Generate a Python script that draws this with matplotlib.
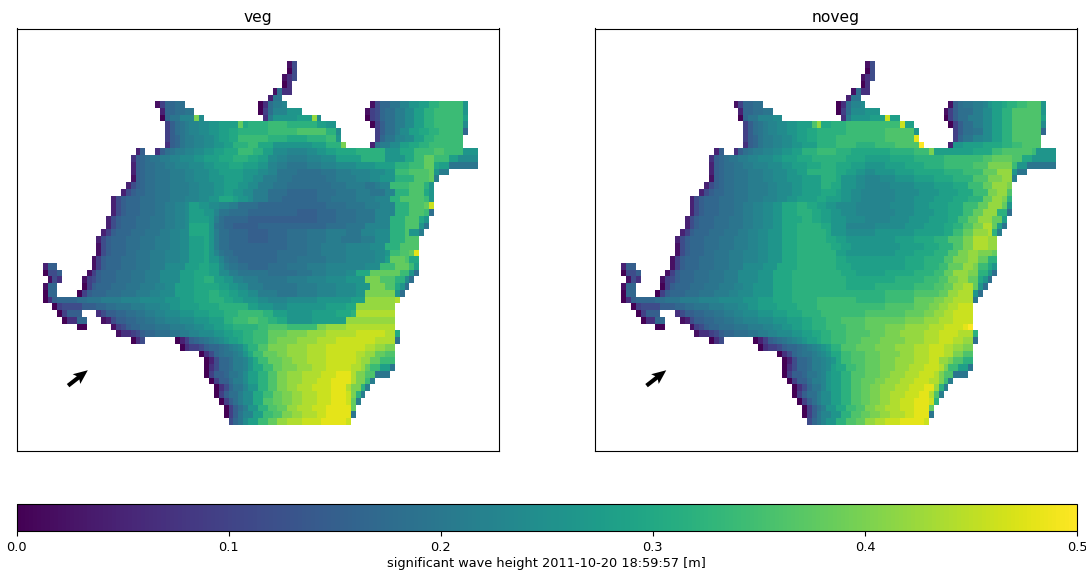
import numpy as np
import matplotlib
matplotlib.use("Agg")
import matplotlib.pyplot as plt

# -------------------------
# DATA
# -------------------------
# one string per grid row
# token = level letter + column where that level stops, "." = no data

PANEL_TITLES = ["veg", "noveg"]
CBAR_TICKS = [0.0, 0.1, 0.2, 0.3, 0.4, 0.5]
CBAR_LABEL = "significant wave height 2011-10-20 18:59:57 [m]"
N_COLS = 89

# wave height [m] of each level letter, matched against the colour bar
LEVEL_LETTERS = "abcdefghijklmnopqrstuvwxyz"
LEVEL_VALUES = [0.0, 0.02, 0.045, 0.07, 0.095, 0.115, 0.15, 0.165, 0.18, 0.195, 0.21, 0.225, 0.24,
                0.26, 0.28, 0.30, 0.32, 0.34, 0.36, 0.38, 0.40, 0.42, 0.44, 0.46, 0.48, 0.50]

VEG_ROWS = [
    ".50 b51 f52",
    ".50 a51 f52",
    ".49 b50 d51 f52",
    ".49 a50 d51",
    ".47 b48 i49 d51",
    ".46 c47 j49",
    ".23 b24 e25 h27 i29 .44 a45 d46 i47 k49 l50 .67 b68 f69 h71 j73 l75 n77 o79 q81 r86 n87",
    ".24 c25 h27 i29 j31 .44 a45 e46 i47 l50 n53 .66 b67 e68 f69 h70 i72 k74 m76 o78 q80 r86 n87",
    ".24 a25 h26 j28 l31 u32 m33 .45 d46 k47 n52 o55 v56 m57 .66 a67 e68 f69 h70 i72 k74 m76 o78 q80 r86 o87",
    ".25 e26 g27 i28 j29 k30 l32 m34 n36 o40 t41 p42 q46 r50 q56 o58 n60 .67 a68 e69 g70 i72 k74 m76 o78 q80 r86 m87",
    ".25 e26 g27 i28 j29 k30 l32 m34 n36 o38 p40 q46 r52 s58 q60 m61 .68 e69 g70 i72 k73 m75 o77 p79 q81 r86 h87",
    ".25 e26 g27 h28 j29 k31 l33 m35 n36 o38 p40 r46 q50 p54 q58 r60 n61 .68 e69 h70 j72 l74 m76 o78 q80 r86",
    ".25 d26 g27 h28 j29 k31 l33 m35 n37 o39 q42 r44 p47 n52 n55 o58 q61 u62 .67 c68 i69 k71 m73 o75 p77 q79 r86",
    ".19 c20 g21 .23 d24 g25 i26 j27 k29 l31 m33 n35 o37 p40 r43 q45 o47 m50 l54 m56 n58 o60 p64 q70 n73 p76 r80 s82 r86 n89",
    ".18 d19 g20 h21 i22 j24 k26 l28 m31 n33 o36 p39 q42 p44 o46 m48 l50 k54 l57 m60 o65 q70 n74 p76 r78 t80 r83 o85 m89",
    ".18 c19 g20 h21 i23 j25 k27 l30 m33 n35 o38 p41 o44 n46 l48 k50 j54 k57 l60 m64 n68 o72 q75 r78 t80 p81 o83 j89",
    ".18 c19 g20 h21 i23 j26 k29 l31 m34 n36 o38 o41 n44 m46 l48 j52 i57 j60 k63 l67 m70 n72 r75 s79 t80 n81 k83",
    ".18 b19 g20 h21 i23 j26 k29 l31 m34 n37 o41 n43 m45 k48 j51 i58 j60 k64 l67 m69 n72 q76 s79 t80 k81",
    ".17 c18 f19 g20 h21 i23 j26 k30 l32 m35 n37 o40 n42 m44 k47 j50 i59 j62 k66 j68 k69 l71 r75 s78 q79 n80",
    ".16 c17 f18 g19 h21 i23 j26 k30 l32 m35 n37 o39 n41 m43 k46 i50 h56 i60 j64 k67 j70 l72 q75 s78 p79 n80",
    ".14 c15 f16 g17 h20 i23 j26 k29 l32 m34 n36 p39 o40 n42 m43 k46 i49 h56 i59 j64 k68 l71 q73 s78 r79 n80",
    ".14 c15 f16 g17 h20 i23 j25 k27 l29 m30 o32 n34 m36 l38 k40 i44 h50 h58 i62 j66 k69 l72 q75 s78 t79 x80",
    ".14 c15 f16 g17 h20 i23 j25 k27 l29 m30 o33 n35 l36 j38 i42 h52 g56 h60 i64 j68 l72 q75 s78 r79 i80",
    ".13 c14 f15 g16 h19 i22 j25 k27 l29 m30 o34 n35 k36 i37 h42 g52 g56 h60 i64 j68 l71 q74 s77 p78 n79",
    ".13 c14 f15 g16 h19 i22 j25 k27 l29 m30 p34 n35 j36 i37 h39 g44 h52 h58 i62 j66 l71 q74 s77 n78 j79",
    ".12 c13 e14 g15 h18 i21 j24 k26 l28 m30 p34 n35 k36 i38 h42 g46 h50 i54 j58 k62 j65 l68 m71 q74 s75 n77 k78",
    ".11 c12 f13 g14 h17 i20 j23 k26 l28 m30 o33 p34 n35 k36 i38 h42 g46 h50 i54 j58 k61 j65 k68 m71 q74 s77",
    ".11 b12 f13 g14 h17 i20 j23 k26 l28 m30 o33 p34 n35 k36 i38 h44 h50 i54 j57 k62 l67 m70 q73 s77",
    ".11 b12 f13 g14 h17 i19 j22 k25 l28 m30 o33 p34 n35 l36 j37 i39 h44 h48 i52 i54 j57 k62 l68 m70 n71 r73 s75 t76 y77",
    ".10 b11 e12 g13 h16 i19 j22 k25 l28 m30 o33 p34 n36 l37 j38 i40 h44 h48 i52 j56 j58 k62 l68 m70 o71 t74 s75 p77",
    "c1 g3 .10 b11 e12 g13 h16 i19 j22 k25 m29 o32 p34 o36 m37 k38 j40 i42 h46 i50 j54 k58 l63 l66 m69 r72 t75 r76 o77",
    "a1 f3 g4 .9 b10 e11 g12 h15 i18 j21 k24 m28 o31 p34 o36 m38 k40 j42 j46 i52 j55 k58 l62 m64 p67 t73 r75 n76 i77",
    ".1 b2 f3 d4 .8 b9 e10 f11 g12 h15 i18 j21 k24 m28 o31 p33 q35 o37 n39 l41 k44 j50 k54 l58 m62 n66 u69 s72 q74 m75 i76",
    "b1 h3 .8 a9 e10 g11 h14 i17 j20 k23 l25 m27 o31 p34 p36 o38 n40 m42 k45 j52 k56 l60 m64 n67 u70 s72 p73 n74 i75",
    "a1 h3 .7 a8 e9 g10 h13 i16 j19 k22 l24 m27 o31 p34 q36 p38 o40 n42 m44 k48 j52 k56 l60 m64 n66 u72 n73 i74",
    "a1 d2 g3 h7 i9 j12 k16 l20 m25 n28 o31 p34 q37 p39 o41 n44 m46 l50 m56 n60 n63 o66 v72 w73",
    ".2 a3 e4 f8 g11 h13 i15 j18 k21 l24 m26 n28 o32 p36 q40 q42 o44 n47 m50 n54 n58 o62 p64 v72",
    ".3 a4 e5 g8 .11 d12 f13 g15 h17 i19 j21 k23 l25 m28 n31 o34 p37 q40 r43 r45 q47 o50 n55 o60 p63 q64 w72",
    ".4 a5 d7 h9 .12 b13 c14 f15 g17 h19 i21 j23 k25 l28 m31 n34 o37 q39 r42 s44 r46 q48 p50 n55 o58 o62 v72",
    ".7 a9 .14 b15 e16 f17 g18 h20 i23 j26 k29 l31 m33 n35 o37 p39 q44 r46 s50 r56 u58 v62 w72",
    ".15 b16 d18 e19 f20 g21 h23 i26 j28 k30 l32 m35 n37 o39 p41 q43 r46 t50 u54 v58 w64 x70 w72 p73",
    ".18 a19 d20 f21 .27 a28 c29 e30 g31 h32 i33 j34 k35 l36 m37 n38 o40 p41 q43 r46 t48 u52 v56 w60 x68 w72 i73",
    ".28 a29 d30 e32 f33 g34 h36 i37 j38 k39 l40 m41 o42 q44 s46 u50 v54 w58 x66 w68 v70 u72",
    ".32 a33 d34 f35 h36 i37 j39 k40 l41 n42 p43 r45 t48 u50 v54 w58 x64 w66 v68 t70 s72",
    ".33 a34 c35 f36 h38 i39 k41 l42 n43 p44 r46 t49 u51 v54 w58 x64 w65 v67 t69 r71 r72",
    ".33 a34 d35 f36 h38 i39 k41 l42 n43 p45 r47 t49 u52 v55 w58 x63 w65 v66 t67 r69 o71 j72",
    ".33 a34 e35 g37 h38 j40 k41 m42 o44 q46 s48 u50 v53 w57 x60 y63 w64 u66 s68 j71",
    ".34 a35 e36 g38 i39 k41 m42 o44 q46 s48 u50 v53 w56 x59 y63 w64 u66 r67 k68",
    ".35 a36 d37 f38 h39 j41 l42 n44 q46 s48 u50 v52 w55 x59 y62 w63 u65 q66 k67",
    ".35 a36 e37 g38 i40 k41 m43 p45 r47 t49 u51 v53 w56 x59 y62 x63 u64 q65 k66",
    ".36 a37 e38 g39 i40 k41 m43 p45 s47 t49 u51 v53 w56 x59 y62 x63 t64 k65",
    ".37 a38 e39 g40 i41 k42 n44 q46 s48 t50 v52 w55 x58 y63 t64",
    ".37 a38 e39 g40 j41 l43 o45 r47 s49 u51 v53 w56 x58 y63 j64",
    ".38 f39 h40 j41 m42 o44 r46 t48 v50 w53 x57 y62 x63",
]

NOVEG_ROWS = [
    ".50 b51 f52",
    ".50 a51 f52",
    ".49 b50 d51 f52",
    ".49 a50 d51",
    ".47 b48 i49 d51",
    ".46 c47 j49",
    ".23 b24 e25 h27 i29 .44 a45 d46 i47 l49 m50 .67 b68 g69 i70 j72 k74 l75 n76 o78 p79 q81 r83 s86 n87",
    ".24 c25 h27 i29 j31 .44 a45 e46 i47 m50 n53 .66 b67 e68 g69 i72 k74 m76 o78 q80 s86 n87",
    ".24 a25 h26 j28 l31 m33 .45 d46 k47 n51 o54 x55 o57 .66 a67 e68 g69 i71 k74 m76 o78 q80 s86 o87",
    ".25 e26 g27 i28 j29 k30 l32 m34 n36 o39 s40 v41 p43 q46 r50 r54 r57 x58 o60 .67 a68 e69 g70 i72 k74 m76 o78 q80 s86 m87",
    ".25 e26 g27 i28 j29 k30 l32 m34 n36 o38 p40 q46 r54 s60 n61 .68 e69 g70 i72 j74 m76 o78 q80 s86 h87",
    ".25 e26 g27 h28 j29 k31 l33 m35 n36 o38 p40 q44 r48 r54 s60 y61 .68 e69 h70 j72 l74 m76 o78 q80 s86",
    ".25 d26 g27 h28 j29 k31 l33 m35 n37 o40 q44 r48 q52 r56 s61 z62 .67 c68 n70 o74 p78 q80 r82 s86",
    ".19 c20 g21 .23 d24 g25 i26 j27 k29 l31 m33 n35 o37 q40 r44 q47 p50 p55 q60 r63 u64 o72 p76 r78 s84 r85 n89",
    ".18 d19 g20 h21 i22 j24 k26 l28 m31 n33 o36 p39 q42 q46 p50 o55 p60 q66 r70 r74 s76 t80 s82 p84 n89",
    ".18 c19 g20 h21 i23 j25 k27 l30 m33 n35 o38 p41 q44 p47 o50 n54 o58 p62 q66 r72 s75 u80 r81 n83 j89",
    ".18 c19 g20 h21 i23 j26 k29 l31 m34 n36 o38 q44 p46 o48 n50 m52 n56 o60 p66 q70 r74 t77 v80 n81 j83",
    ".18 b19 g20 h21 i23 j26 k29 l31 m34 n37 o41 q44 p45 n48 m50 l53 m56 n60 o64 p68 q72 s75 u78 v80 k81",
    ".17 c18 f19 g20 h21 i23 j26 k30 l32 m35 n37 o41 q43 p45 n48 m50 l55 m60 n64 o68 p71 r74 t76 v79 u80",
    ".16 c17 f18 g19 h21 i23 j26 k30 l32 m35 n37 o41 p44 o45 n47 m49 l56 m61 n65 o69 p72 r75 u77 v79 s80",
    ".14 c15 f16 g17 h20 i23 j26 k29 l32 m34 n36 o40 p42 o45 n47 m49 l56 m60 n64 o68 p71 q74 t76 v78 u79 q80",
    ".14 c15 f16 g17 h20 i23 j25 k27 l29 m31 n33 p36 q38 p40 o42 n44 m48 l55 m60 n63 o67 p70 r73 t75 v78 t79 n80",
    ".14 c15 f16 g17 h20 i23 j25 k27 l29 m31 n33 p36 q39 p41 o43 n45 m48 l56 m60 n64 o67 p70 r72 t74 v77 q79 i80",
    ".13 c14 f15 g16 h19 i22 j25 k27 l29 m31 n33 p37 q39 p41 o43 n46 m50 l55 m59 n63 o67 p69 r71 t73 v76 t78 o79",
    ".13 c14 f15 g16 h19 i22 j25 k27 l29 m31 n33 p36 q39 q41 p43 n46 l52 m58 n62 o66 p68 q70 s72 u74 w76 t77 o78 j79",
    ".12 c13 e14 g15 h18 i21 j24 k26 l28 m30 n33 p36 q39 q42 p43 n46 m52 n60 o66 p68 r70 t72 v75 w76 q77 k78",
    ".11 c12 f13 g14 h17 i20 j23 k26 l28 m30 n33 p36 q39 q42 p44 o46 n50 n56 o60 p64 q67 s70 u72 w75 v77",
    ".11 b12 f13 g14 h17 i20 j23 k26 l28 m30 n33 p36 q39 q43 p45 o47 n52 n57 o62 p65 q68 s70 u72 w75 v77",
    ".11 b12 f13 g14 h17 i19 j22 k25 l28 m30 n33 p36 q40 q44 o46 n52 n56 o60 p64 q67 s69 u71 v73 u76 t77",
    ".10 b11 e12 g13 h16 i19 j22 k25 l28 m30 n33 p36 q40 q44 p46 o52 o58 p62 q66 s68 u71 v73 t75 q77",
    "c1 g3 .10 b11 e12 g13 h16 i19 j22 k25 m29 n32 p36 q40 q44 p47 o54 o58 p62 q65 r67 t70 v72 u73 r75 p76 n77",
    "a1 f3 g4 .9 b10 e11 g12 h15 i18 j21 k24 m28 n31 p35 q40 q45 p48 o54 p60 q64 r66 t68 v71 u73 q75 n76 i77",
    ".1 b2 f3 d4 .8 b9 e10 f11 g12 h15 i18 j21 k24 m28 n31 p35 q41 q46 p50 p56 q62 r65 s67 u69 v71 t73 p74 n75 i76",
    "b1 h3 .8 a9 e10 g11 h14 i17 j20 k23 l25 m27 n31 p35 q41 q46 p52 q60 r64 s66 t68 v70 w72 t73 n74 i75",
    "a1 h3 .7 a8 e9 g10 h13 i16 j19 k22 l24 m27 n31 p35 q41 q48 q54 r60 s65 t67 v69 w72 n73 i74",
    "a1 d2 g3 h7 i9 j12 k16 l20 m25 n28 o31 p35 q40 r44 r48 q54 r60 t64 u66 v68 w72 j73",
    ".2 a3 e4 f8 g11 h13 i15 j18 k21 l24 m26 n28 o32 p36 q40 r45 r50 r54 s60 t63 u65 v67 w69 x72",
    ".3 a4 e5 g8 .11 d12 f13 g15 h17 i19 j21 k23 l25 m28 n31 o34 p37 q41 r46 r50 s58 t62 u64 v66 w68 x72",
    ".4 a5 d7 h9 .12 b13 c14 f15 g17 h19 i21 j23 k25 l28 m31 n34 o37 p39 q42 r45 s50 t58 u62 v65 w68 x72",
    ".7 a9 .14 b15 e16 f17 g18 h20 i23 j26 k29 l31 m33 n35 o37 p39 q42 r46 s50 t54 u58 v63 w66 x70 y71 z72",
    ".15 b16 d18 e19 f20 g21 h23 i26 j28 k30 l32 m35 n37 o39 p41 q43 r46 s51 t54 u57 v62 w65 x69 w72 q73",
    ".18 a19 d20 f21 .27 a28 c29 e30 g31 h32 i33 j34 k35 l36 m37 n38 o40 p41 q43 r46 s49 t53 u58 v62 w65 x68 w70 v72 i73",
    ".28 a29 d30 e32 f33 g34 h36 i37 j38 k39 l40 m41 n42 o43 q45 s48 t52 u56 v60 w63 x66 w68 v70 u72",
    ".32 a33 d34 f35 h36 i37 j39 k40 l41 m42 n43 p45 r47 s50 t53 u57 v60 w63 x66 w68 u70 s72",
    ".33 a34 c35 f36 h38 i39 k41 l42 m43 n44 p45 r47 s50 t53 u56 v60 w63 x65 v67 u68 s70 q72",
    ".33 a34 d35 f36 h38 i39 k41 l42 m43 o44 p46 r48 s50 t53 u56 v59 w62 x65 w66 u67 r69 o71 j72",
    ".33 a34 e35 g37 h38 j40 k41 l42 n43 o45 q47 s50 t53 u55 v58 w61 x64 w65 u66 s68 j71",
    ".34 a35 e36 g38 i39 k41 l42 n43 o45 q47 s49 t52 u54 v57 w60 x63 w65 u66 r67 k68",
    ".35 a36 d37 f38 h39 j41 l42 n43 o45 q47 s49 t51 u53 v56 w59 x62 y64 v65 q66 k67",
    ".35 a36 e37 g38 i40 k41 m43 o45 q47 s49 t51 u53 v55 w58 x61 y63 w64 s65 k66",
    ".36 a37 e38 g39 i40 k41 m43 o45 q47 s49 t51 u53 v55 w57 x60 y63 x64 q65",
    ".37 a38 e39 g40 i41 k42 n44 p46 r48 s50 u52 v54 w57 x60 y63 t64",
    ".37 a38 e39 g40 j41 l43 n45 q47 s49 t51 u53 v55 w58 x60 y63 j64",
    ".38 f39 h40 j41 l42 n44 q46 s48 t50 v52 w54 x57 y62 x63",
]


def decode(rows):
    grid = np.ma.masked_all((len(rows), N_COLS))
    for r, row in enumerate(rows):
        col = 0
        for tok in row.split():
            end = int(tok[1:])
            if tok[0] != ".":
                grid[r, col:end] = LEVEL_VALUES[LEVEL_LETTERS.index(tok[0])]
            col = end
    return grid


# -------------------------
# FIGURE
# -------------------------

W, H = 1086, 572
fig = plt.figure(figsize=(W / 100, H / 100), dpi=100)

axes_px = [(16.5, 499), (595, 1077)]
top_px, bottom_px = 28.5, 451

for (left, right), title, rows in zip(axes_px, PANEL_TITLES, [VEG_ROWS, NOVEG_ROWS]):
    ax = fig.add_axes([left / W, 1 - bottom_px / H, (right - left) / W, (bottom_px - top_px) / H])
    grid = decode(rows)
    pc = ax.pcolormesh(np.arange(N_COLS + 1), np.arange(len(rows) + 1), grid,
                       cmap="viridis", vmin=0, vmax=0.5, shading="flat")
    ax.set_xlim(-5.35, 93.3)
    ax.set_ylim(57.9, -4.8)
    ax.set_xticks([])
    ax.set_yticks([])
    ax.set_title(title, fontsize=11.2, pad=4.5)
    # wave direction arrow
    ax.quiver(5.2, 48.2, [1], [0], angles=[38], scale=1 / 0.25, scale_units="inches",
              pivot="tail", color="black", width=0.0085, headwidth=3, headlength=3.5,
              headaxislength=3)

cax = fig.add_axes([16.5 / W, 1 - 531 / H, (1077 - 16.5) / W, 27 / H])
cb = fig.colorbar(pc, cax=cax, orientation="horizontal")
cb.set_ticks(CBAR_TICKS)
cb.ax.tick_params(labelsize=9.3)
cb.set_label(CBAR_LABEL, fontsize=9.3, labelpad=2)

fig.savefig("out.png", dpi=100)
